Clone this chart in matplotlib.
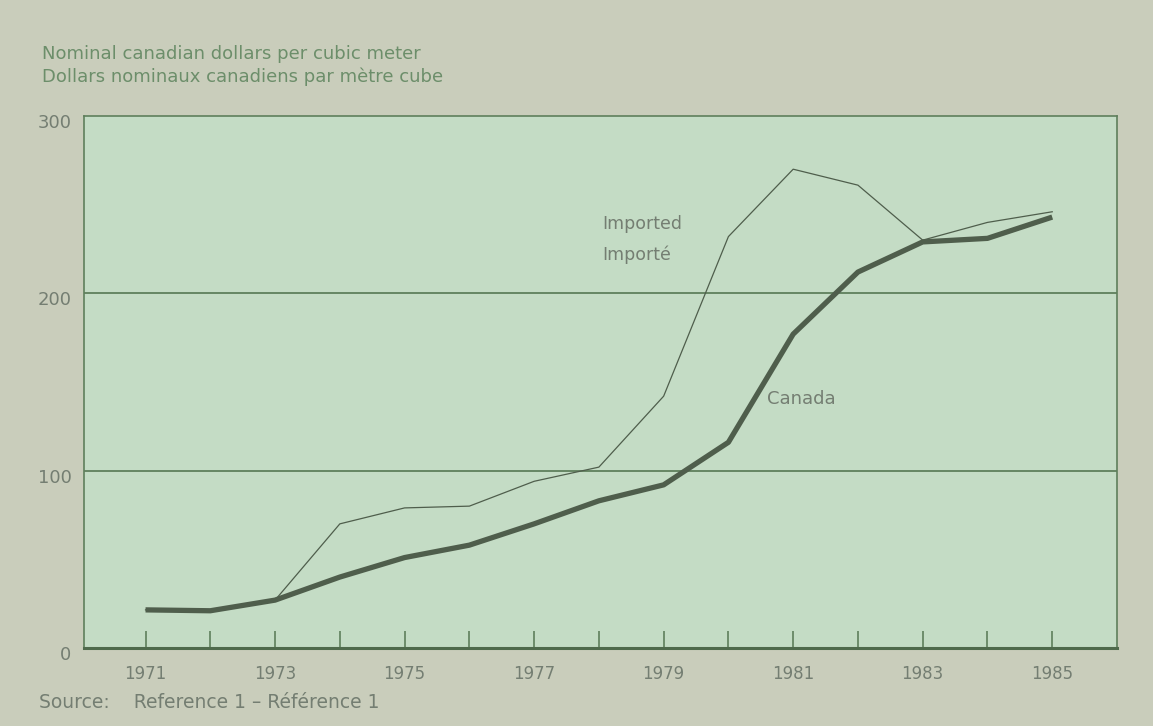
import numpy as np
import matplotlib.pyplot as plt
from matplotlib.transforms import ScaledTranslation

# Nominal Canadian dollars per cubic meter
years = np.arange(1971, 1986)
canada = [21.5, 21, 27, 40, 51, 58, 70, 83, 92, 116, 177, 212, 229, 231, 243]
imported = [21.5, 21, 27, 70, 79, 80, 94, 102, 142, 232, 270, 261, 230, 240, 246]

year_labels = [1971, 1973, 1975, 1977, 1979, 1981, 1983, 1985]
y_ticks = [0, 100, 200, 300]

bg = '#c9cdbb'
plot_bg = '#c4dcc5'
line_col = '#4f5e4c'
frame_col = '#5f7f5c'
text_col = '#747e72'
label_col = '#6c8e6a'

fig = plt.figure(figsize=(11.53, 7.26), dpi=100, facecolor=bg)
ax = fig.add_axes([84 / 1153, 1 - 648 / 726, (1117 - 84) / 1153, (648 - 116) / 726])
ax.set_facecolor(plot_bg)

ax.set_xlim(1970.05, 1986.0)
ax.set_ylim(0, 300)

for v in (100, 200):
    ax.axhline(v, color=frame_col, lw=1.3, zorder=1)

ax.plot(years, imported, color=line_col, lw=0.9, zorder=3)
ax.plot(years, canada, color=line_col, lw=3.8, solid_capstyle='butt', zorder=4)

for s in ax.spines.values():
    s.set_color(frame_col)
    s.set_linewidth(1.2)
ax.spines['bottom'].set_linewidth(2.2)
ax.spines['bottom'].set_color('#4f6a4c')

ax.set_xticks(years)
ax.set_xticklabels([str(y) if y in year_labels else '' for y in years])
ax.tick_params(axis='x', direction='in', length=12, width=1.2, color=frame_col,
               labelsize=12, labelcolor=text_col, pad=12)
ax.set_yticks(y_ticks)
ax.tick_params(axis='y', length=0, labelsize=13, labelcolor=text_col, pad=9)
# y labels sit a little below their lines in the original
shift = ScaledTranslation(0, -5 / 100, fig.dpi_scale_trans)
for lab in ax.get_yticklabels():
    lab.set_transform(lab.get_transform() + shift)

ax.text(1978.05, 239, 'Imported', fontsize=12.5, color=text_col, ha='left', va='center')
ax.text(1978.05, 222, 'Importé', fontsize=12.5, color=text_col, ha='left', va='center')
ax.text(1980.6, 140.5, 'Canada', fontsize=13, color=text_col, ha='left', va='center')

fig.text(42 / 1153, 1 - 54 / 726, 'Nominal canadian dollars per cubic meter',
         fontsize=13, color=label_col, va='center')
fig.text(42 / 1153, 1 - 77 / 726, 'Dollars nominaux canadiens par mètre cube',
         fontsize=13, color=label_col, va='center')
fig.text(39 / 1153, 1 - 703 / 726, 'Source:    Reference 1 \u2013 Référence 1',
         fontsize=13.5, color=text_col, va='center')

fig.savefig('out.png', dpi=100, facecolor=bg)
